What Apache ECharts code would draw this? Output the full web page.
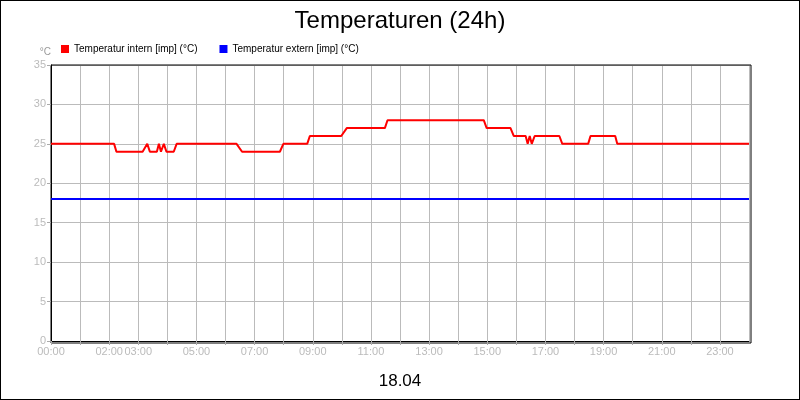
<!DOCTYPE html>
<html><head><meta charset="utf-8">
<script src="https://cdn.jsdelivr.net/npm/echarts@6/dist/echarts.min.js"></script>
<style>html,body{margin:0;padding:0;}#c{width:800px;height:400px;box-sizing:border-box;border:1px solid #000;}</style>
</head><body><div id="c"></div>
<script>
const hoursLabeled = [0,2,3,5,7,9,11,13,15,17,19,21,23];
const internHours = [0,2.17,2.25,3.15,3.31,3.4,3.64,3.71,3.78,3.88,3.97,4.22,4.32,6.38,6.57,7.87,7.99,8.81,8.9,9.98,10.17,11.48,11.57,14.88,14.98,15.8,15.91,16.32,16.39,16.46,16.53,16.63,17.48,17.58,18.47,18.55,19.4,19.47,24];
const internTemp  = [25,25,24,24,25,24,24,25,24,25,24,24,25,25,24,24,25,25,26,26,27,27,28,28,27,27,26,26,25,26,25,26,26,25,25,26,26,25,25];
const externHours = [0,24];
const externTemp = [18,18];
const fmt = h => (h<10?'0':'')+h+':00';
const chart = echarts.init(document.getElementById('c'));
chart.setOption({
  animation:false,
  title:{text:'Temperaturen (24h)',left:'center',top:3,textStyle:{fontFamily:'Liberation Sans',fontSize:24,fontWeight:'normal',color:'#000'}},
  legend:{left:55,top:38,itemWidth:8,itemHeight:8,itemGap:22,icon:'rect',textStyle:{fontFamily:'Liberation Sans',fontSize:10,color:'#000'}},
  grid:{left:50,right:50,top:64,bottom:58},
  xAxis:{type:'value',min:0,max:24,interval:1,
    axisLine:{lineStyle:{color:'#000'}},axisTick:{length:4,lineStyle:{color:'#aaa'}},
    splitLine:{show:true,lineStyle:{color:'#bbb'}},
    axisLabel:{color:'#bbb',fontFamily:'Liberation Sans',fontSize:11,margin:5,showMinLabel:true,showMaxLabel:false,
      formatter:v=>hoursLabeled.includes(v)?fmt(v):''},
    name:'18.04',nameLocation:'middle',nameGap:32,nameTextStyle:{fontFamily:'Liberation Sans',fontSize:17,color:'#000'}},
  yAxis:{type:'value',min:0,max:35,interval:5,name:'°C',nameGap:8,nameTextStyle:{color:'#999',fontSize:10,align:'right',padding:[0,0,0,0]},
    axisLine:{show:true,lineStyle:{color:'#000'}},axisTick:{show:true,length:4,lineStyle:{color:'#aaa'}},
    splitLine:{lineStyle:{color:'#bbb'}},
    axisLabel:{color:'#bbb',fontFamily:'Liberation Sans',fontSize:11,margin:5}},
  series:[
    {name:'Temperatur intern [imp] (°C)',type:'line',data:internHours.map((h,i)=>[h,internTemp[i]]),showSymbol:false,color:'#ff0000',lineStyle:{width:2}},
    {name:'Temperatur extern [imp] (°C)',type:'line',data:externHours.map((h,i)=>[h,externTemp[i]]),showSymbol:false,color:'#0000ff',lineStyle:{width:2}}
  ]
});
// right/top frame
chart.setOption({graphic:[{type:'rect',shape:{x:50,y:64,width:700,height:278},style:{fill:'none',stroke:'#000',lineWidth:1},silent:true}]});
</script></body></html>
